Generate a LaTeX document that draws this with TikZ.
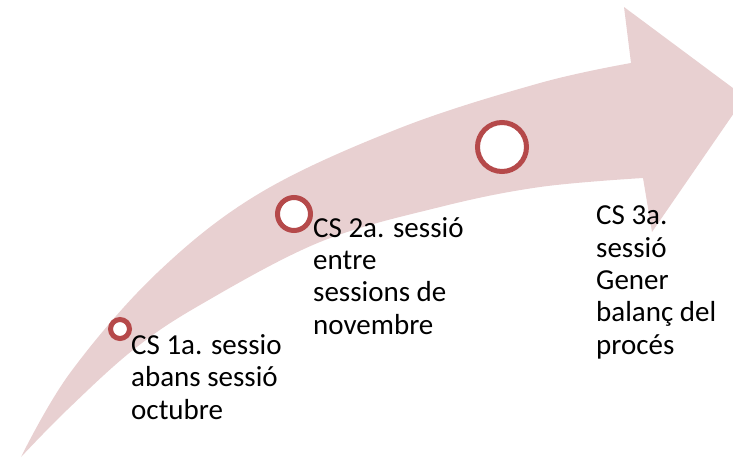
\documentclass[tikz,border=0pt]{standalone}
\usepackage{fontspec}
\setmainfont{Carlito}
\definecolor{arrowpink}{RGB}{232,208,209}
\definecolor{ringred}{RGB}{181,73,74}
\begin{document}
\begin{tikzpicture}[x=1pt,y=-1pt,
  ring/.style={circle,draw=ringred,fill=white,line width=5pt,inner sep=0pt},
  label/.style={anchor=base west,align=left,inner sep=0pt,font=\fontsize{29}{32.3}\selectfont,text=black}]
\useasboundingbox (0,0) rectangle (733,458);
\begin{scope}
\clip (0,0) rectangle (733,458);
\fill[arrowpink] (21,457)
  -- plot[smooth,tension=0.6] coordinates {(21,457) (70,373) (157,273) (260,193) (400,128) (540,83) (631,63)}
  -- (624,7) -- (745,97) -- (652,232) -- (643,178)
  -- plot[smooth,tension=0.6] coordinates {(643,178) (540,187) (440,207) (320,242) (200,305) (133,350) (67,410) (21,457)}
  -- cycle;
\end{scope}
\node[ring,minimum size=19pt] (c1) at (120,329) {};
\node[ring,minimum size=33pt] (c2) at (294,214) {};
\node[ring,minimum size=49pt] (c3) at (502,147) {};
% anchor base = baseline of the last line
\node[label] (t1) at (131,419) {CS 1a. sessio\\abans sessió\\octubre};
\node[label] (t2) at (313,334) {CS 2a. sessió\\entre\\sessions de\\novembre};
\node[label] (t3) at (596,354) {CS 3a.\\sessió\\Gener\\balanç del\\procés};
\end{tikzpicture}
\end{document}
